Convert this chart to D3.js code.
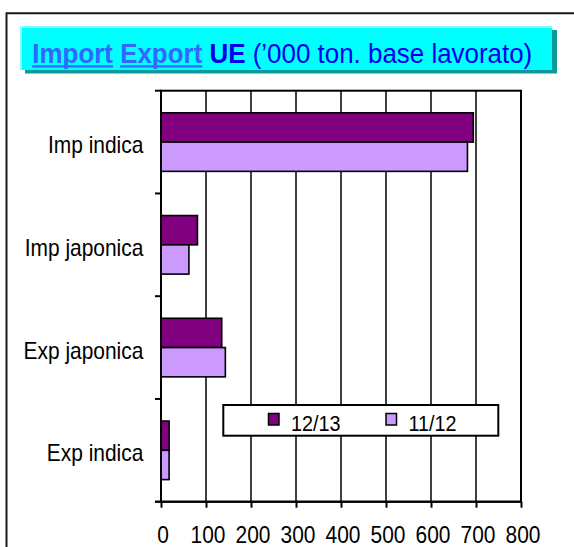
<!DOCTYPE html>
<html>
<head>
<meta charset="utf-8">
<script src="https://cdn.jsdelivr.net/npm/d3@7"></script>
<style>
  body { margin: 0; background: #fff; }
  text { font-family: Arial, "Liberation Sans", sans-serif; }
</style>
</head>
<body>
<div id="chart"></div>
<script>
// data
var categories = ["Imp indica", "Imp japonica", "Exp japonica", "Exp indica"];
var seriesNames = ["12/13", "11/12"];
var values1213 = [694, 81, 135, 18];
var values1112 = [681, 62, 143, 18];
var xTicks = [0, 100, 200, 300, 400, 500, 600, 700, 800];

var width = 574, height = 547;
var sx = 0.91; // text in the picture is horizontally squeezed

var colors = {"12/13": "#800080", "11/12": "#cc99ff"};

var svg = d3.select("#chart").append("svg")
    .attr("width", width)
    .attr("height", height)
    .style("display", "block");

svg.append("rect")
    .attr("width", width).attr("height", height)
    .attr("fill", "#fff");

// outer frame (right and bottom sides fall outside the picture)
svg.append("path")
    .attr("d", "M6.5," + height + "V13.3H" + width)
    .attr("fill", "none")
    .attr("stroke", "#1a1a1a")
    .attr("stroke-width", 2);

// title box with shadow
svg.append("rect")
    .attr("x", 25).attr("y", 30)
    .attr("width", 532).attr("height", 43.5)
    .attr("fill", "#0e9a9a");
svg.append("rect")
    .attr("x", 20).attr("y", 26)
    .attr("width", 532).attr("height", 44)
    .attr("fill", "#80ffff");
svg.append("rect")
    .attr("x", 22).attr("y", 28)
    .attr("width", 530).attr("height", 42)
    .attr("fill", "#00ffff");

var titleG = svg.append("g")
    .attr("transform", "translate(32.3,63.3) scale(" + sx + ",1)");
var title = titleG.append("text")
    .style("font-size", "28.5px");
var tImport = title.append("tspan")
    .attr("fill", "#3366ff").style("font-weight", "bold")
    .text("Import");
title.append("tspan").attr("fill", "#0000ee").text(" ");
var tExport = title.append("tspan")
    .attr("fill", "#3366ff").style("font-weight", "bold")
    .text("Export");
title.append("tspan").attr("fill", "#0000ee").style("font-weight", "bold").text(" UE");
title.append("tspan").attr("fill", "#0000ee").text(" (\u2019000 ton. base lavorato)");

// underline the two link words
[tImport, tExport].forEach(function(t) {
  var bb = t.node().getBBox();
  titleG.append("line")
      .attr("x1", bb.x).attr("x2", bb.x + bb.width)
      .attr("y1", 3).attr("y2", 3)
      .attr("stroke", "#3366ff")
      .attr("stroke-width", 2.2);
});

// scales
var plotTop = 90.7, plotBottom = 501.7;

var x = d3.scaleLinear()
    .domain([0, 800])
    .range([161, 521]);

var y = d3.scaleBand()
    .domain(categories)
    .range([plotTop, plotBottom])
    .paddingInner(0.43)
    .paddingOuter(0.215);

var ySub = d3.scaleBand()
    .domain(seriesNames)
    .range([0, y.bandwidth()]);

var step = y.step();

// gridlines
svg.append("g")
  .selectAll("line")
  .data(xTicks)
  .enter().append("line")
    .attr("x1", function(d) { return x(d); })
    .attr("x2", function(d) { return x(d); })
    .attr("y1", plotTop).attr("y2", plotBottom)
    .attr("stroke", "#000")
    .attr("stroke-width", 1.5);

// plot border
svg.append("rect")
    .attr("x", x(0)).attr("y", plotTop)
    .attr("width", x(800) - x(0)).attr("height", plotBottom - plotTop)
    .attr("fill", "none")
    .attr("stroke", "#000")
    .attr("stroke-width", 2);

// bars
var rows = categories.map(function(c, i) {
  return {cat: c, vals: [{s: "12/13", v: values1213[i]}, {s: "11/12", v: values1112[i]}]};
});

var groups = svg.append("g")
  .selectAll("g")
  .data(rows)
  .enter().append("g")
    .attr("transform", function(d) { return "translate(0," + y(d.cat) + ")"; });

groups.selectAll("rect")
  .data(function(d) { return d.vals; })
  .enter().append("rect")
    .attr("x", x(0))
    .attr("y", function(d) { return ySub(d.s); })
    .attr("width", function(d) { return x(d.v) - x(0); })
    .attr("height", ySub.bandwidth())
    .attr("fill", function(d) { return colors[d.s]; })
    .attr("stroke", "#000")
    .attr("stroke-width", 1.6);

// y axis: ticks between categories
var yTickPos = d3.range(categories.length + 1).map(function(i) { return plotTop + i * step; });
svg.append("g")
  .selectAll("line")
  .data(yTickPos)
  .enter().append("line")
    .attr("x1", x(0) - 6).attr("x2", x(0))
    .attr("y1", function(d) { return d; })
    .attr("y2", function(d) { return d; })
    .attr("stroke", "#000")
    .attr("stroke-width", 2);

svg.append("line")
    .attr("x1", x(0)).attr("x2", x(0))
    .attr("y1", plotTop).attr("y2", plotBottom)
    .attr("stroke", "#000").attr("stroke-width", 2);

// category labels
svg.append("g")
  .selectAll("text")
  .data(categories)
  .enter().append("text")
    .attr("transform", function(d) {
      return "translate(143.3," + (y(d) + y.bandwidth() / 2 + 11) + ") scale(" + sx + ",1)";
    })
    .attr("text-anchor", "end")
    .style("font-size", "23px")
    .attr("fill", "#000")
    .text(function(d) { return d; });

// x axis
var xAxis = svg.append("g")
    .attr("transform", "translate(0," + plotBottom + ")")
    .call(d3.axisBottom(x).tickValues(xTicks).tickSize(6).tickPadding(0).tickSizeOuter(0));

xAxis.select(".domain").remove();
xAxis.selectAll(".tick line")
    .attr("stroke", "#000")
    .attr("stroke-width", 2);
xAxis.selectAll(".tick text")
    .attr("y", 0).attr("dy", null)
    .attr("transform", "translate(1.5,41) scale(" + sx + ",1)")
    .attr("fill", "#000")
    .style("font-family", "Arial, 'Liberation Sans', sans-serif")
    .style("font-size", "23px");

svg.append("line")
    .attr("x1", x(0) - 6).attr("x2", x(800))
    .attr("y1", plotBottom).attr("y2", plotBottom)
    .attr("stroke", "#000").attr("stroke-width", 2);

// legend
var legend = svg.append("g");
legend.append("rect")
    .attr("x", 223.3).attr("y", 405)
    .attr("width", 275).attr("height", 30.7)
    .attr("fill", "#fff")
    .attr("stroke", "#000")
    .attr("stroke-width", 2);

var legX = [268.5, 386];
var legItems = legend.selectAll("g.item")
  .data(seriesNames)
  .enter().append("g")
    .attr("class", "item")
    .attr("transform", function(d, i) { return "translate(" + legX[i] + ",413.5)"; });

legItems.append("rect")
    .attr("width", 10.5).attr("height", 11.5)
    .attr("fill", function(d) { return colors[d]; })
    .attr("stroke", "#000")
    .attr("stroke-width", 1.5);

legItems.append("text")
    .attr("transform", "translate(22.5,17.2) scale(0.9,1)")
    .style("font-size", "22px")
    .attr("fill", "#000")
    .text(function(d) { return d; });
</script>
</body>
</html>
